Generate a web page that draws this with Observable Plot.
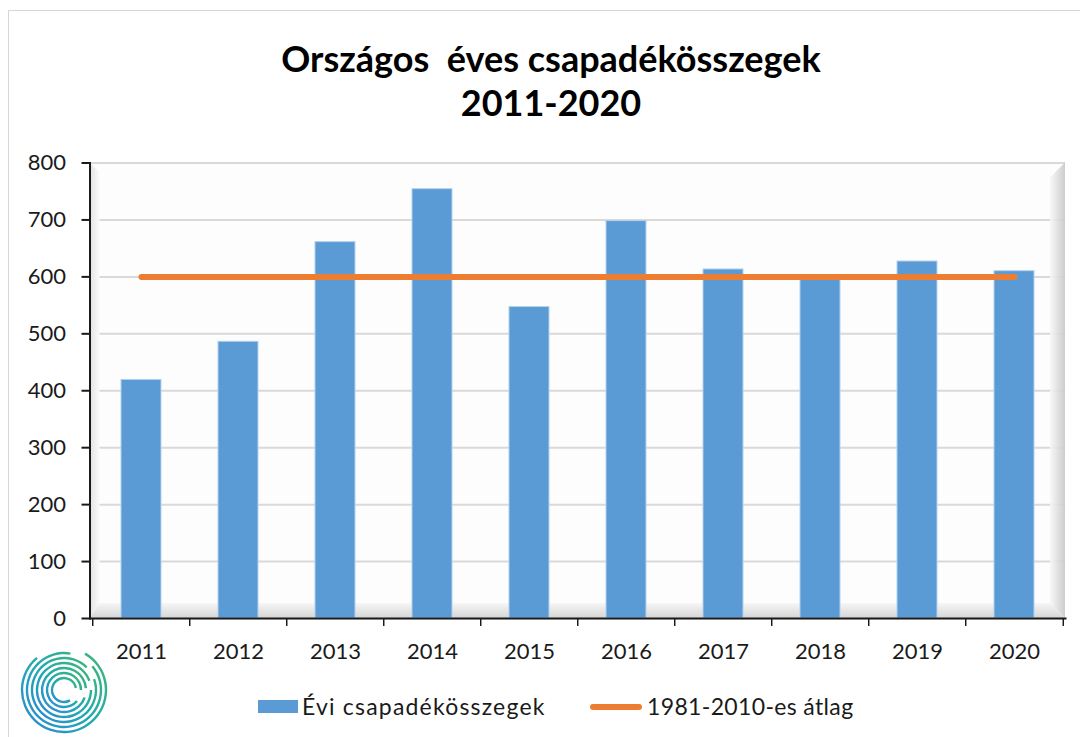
<!DOCTYPE html>
<html><head><meta charset="utf-8">
<script src="https://cdn.jsdelivr.net/npm/d3@7"></script>
<script src="https://cdn.jsdelivr.net/npm/@observablehq/plot@0.6"></script>
<style>
body{margin:0;background:#fff;}
#wrap{position:relative;width:1080px;height:737px;overflow:hidden;font-family:Lato,"Open Sans",sans-serif;color:#1a1a1a;}
#border{position:absolute;left:8px;top:10px;width:1200px;height:900px;border-left:1.5px solid #d6d6d6;border-top:1.5px solid #d6d6d6;}
#title{position:absolute;left:0;top:36px;width:1102px;text-align:center;font-weight:bold;font-size:36px;line-height:44px;white-space:pre;color:#000;}
#chart{position:absolute;left:0;top:140px;}
.lg{position:absolute;font-size:23px;line-height:26px;top:693px;white-space:nowrap;}
#sw1{position:absolute;left:258px;top:700px;width:40px;height:13px;background:#5B9BD5;}
#sw2{position:absolute;left:590px;top:704px;width:52px;height:6px;border-radius:3px;background:#ED7D31;}
#logo{position:absolute;left:14px;top:644px;}
</style></head>
<body>
<div id="wrap">
  <div id="border"></div>
  <div id="title"></div>
  <div id="chart"></div>
  <div id="sw1"></div><div class="lg" id="lt1" style="left:302px;letter-spacing:1.2px"></div>
  <div id="sw2"></div><div class="lg" id="lt2" style="left:647px;letter-spacing:0.35px"></div>
  <svg id="logo" width="100" height="93" viewBox="0 0 100 93"></svg>
</div>
<script>
// ---- data ----
const titleLines = ["Országos  éves csapadékösszegek", "2011-2020"];
const years = ["2011","2012","2013","2014","2015","2016","2017","2018","2019","2020"];
const totals = [419, 486, 661, 754, 547, 698, 613, 597, 627, 610];
const averageValue = 600;
const yTicks = [0, 100, 200, 300, 400, 500, 600, 700, 800];
const seriesNames = ["Évi csapadékösszegek", "1981-2010-es átlag"];

document.getElementById("title").textContent = titleLines.join("\n");
document.getElementById("lt1").textContent = seriesNames[0];
document.getElementById("lt2").textContent = seriesNames[1];

const data = years.map((y, i) => ({year: y, value: totals[i], avg: averageValue}));

const W = 1080, H = 530, mL = 89.5, mR = 15, mT = 22.5, mB = 52;
const step = (W - mL - mR) / years.length;

const chart = Plot.plot({
  width: W, height: H,
  marginTop: mT, marginBottom: mB, marginLeft: mL, marginRight: mR,
  style: {fontFamily: "Lato, 'Open Sans', sans-serif", fontSize: "22px", color: "#1a1a1a", background: "transparent", overflow: "visible"},
  x: {domain: years, paddingInner: 0.59, paddingOuter: 0.295, label: null},
  y: {domain: [0, 800], ticks: yTicks, label: null},
  marks: [
    Plot.gridY(yTicks, {stroke: "#d9d9d9", strokeOpacity: 1, strokeWidth: 2}),
    Plot.barY(data, {x: "year", y: "value", fill: "#5B9BD5", stroke: "#b3d0ee", strokeWidth: 1}),
    Plot.lineY(data, {x: "year", y: "avg", stroke: "#ED7D31", strokeWidth: 6, strokeLinecap: "round"}),
    Plot.ruleX(years, {x: d => d, y1: 0, y2: -14, dx: -step / 2, stroke: "#1a1a1a", strokeWidth: 1.5}),
    Plot.ruleX(years.slice(-1), {x: d => d, y1: 0, y2: -14, dx: step / 2, stroke: "#1a1a1a", strokeWidth: 1.5}),
    Plot.frame({anchor: "left", stroke: "#1a1a1a", strokeWidth: 2}),
    Plot.frame({anchor: "bottom", stroke: "#1a1a1a", strokeWidth: 2}),
    Plot.axisY(yTicks, {tickSize: 8, tickPadding: 16, stroke: "#1a1a1a", strokeWidth: 2, fontSize: 22, fill: "#1a1a1a"}),
    Plot.axisX({tickSize: 0, tickPadding: 25, fontSize: 22, fill: "#1a1a1a"})
  ]
});
document.getElementById("chart").appendChild(chart);

// ---- plot-area shading (3D wall look) ----
const svg = d3.select(chart);
const xr = chart.scale("x").range, ys = chart.scale("y");
const x0 = xr[0], x1 = xr[1], yTop = ys.apply(800), yBot = ys.apply(0);
const defs = svg.append("defs");
const g1 = defs.append("linearGradient").attr("id", "floorG").attr("x1", 0).attr("x2", 0).attr("y1", 0).attr("y2", 1);
g1.append("stop").attr("offset", 0).attr("stop-color", "#f6f6f6");
g1.append("stop").attr("offset", 1).attr("stop-color", "#d6d6d6");
const g2 = defs.append("linearGradient").attr("id", "rightG").attr("x1", 0).attr("x2", 1).attr("y1", 0).attr("y2", 0);
g2.append("stop").attr("offset", 0).attr("stop-color", "#f7f7f7");
g2.append("stop").attr("offset", 1).attr("stop-color", "#c8c8c8");
const g3 = defs.append("linearGradient").attr("id", "leftG").attr("x1", 0).attr("x2", 1).attr("y1", 0).attr("y2", 0);
g3.append("stop").attr("offset", 0).attr("stop-color", "#e2e2e2");
g3.append("stop").attr("offset", 1).attr("stop-color", "#fbfbfb");
const grid = chart.querySelector('[aria-label="y-grid"]');
const walls = document.createElementNS("http://www.w3.org/2000/svg", "g");
grid.parentNode.insertBefore(walls, grid.nextSibling);
const w = d3.select(walls);
const dd = 15, dl = 10;
w.append("polygon").attr("fill", "url(#rightG)").attr("opacity", 0.9)
  .attr("points", [[x1 - dd, yTop + dd], [x1, yTop], [x1, yBot], [x1 - dd, yBot - dd]].join(" "));
w.append("polygon").attr("fill", "url(#leftG)")
  .attr("points", [[x0, yTop], [x0 + dl, yTop + dl], [x0 + dl, yBot - dd], [x0, yBot]].join(" "));
w.append("polygon").attr("fill", "url(#floorG)")
  .attr("points", [[x0 + dl, yBot - dd], [x1 - dd, yBot - dd], [x1, yBot], [x0, yBot]].join(" "));
svg.insert("rect", "g").attr("x", x0).attr("y", yTop).attr("width", x1 - x0).attr("height", yBot - yTop).attr("fill", "#fdfdfd");

// ---- logo (decorative spiral) ----
const logo = d3.select("#logo");
const lg = logo.append("defs").append("linearGradient").attr("id", "logoG")
  .attr("x1", 0).attr("y1", 1).attr("x2", 1).attr("y2", 0);
lg.append("stop").attr("offset", 0).attr("stop-color", "#2f86d6");
lg.append("stop").attr("offset", 0.45).attr("stop-color", "#22a8b4");
lg.append("stop").attr("offset", 1).attr("stop-color", "#3cb872");
const rings = [[12, 60, 290], [17, 40, 320], [22, 20, 335], [27, 0, 340], [32, -20, 335], [37, -40, 320], [42, -60, 290]];
rings.forEach(([r, a0, span]) => {
  const arc = d3.arc().innerRadius(r - 1.2).outerRadius(r + 1.2)
    .startAngle((a0 + 90) * Math.PI / 180).endAngle((a0 + 90 + span) * Math.PI / 180);
  logo.append("path").attr("d", arc()).attr("transform", "translate(50,46)").attr("fill", "url(#logoG)");
});
</script>
</body></html>
